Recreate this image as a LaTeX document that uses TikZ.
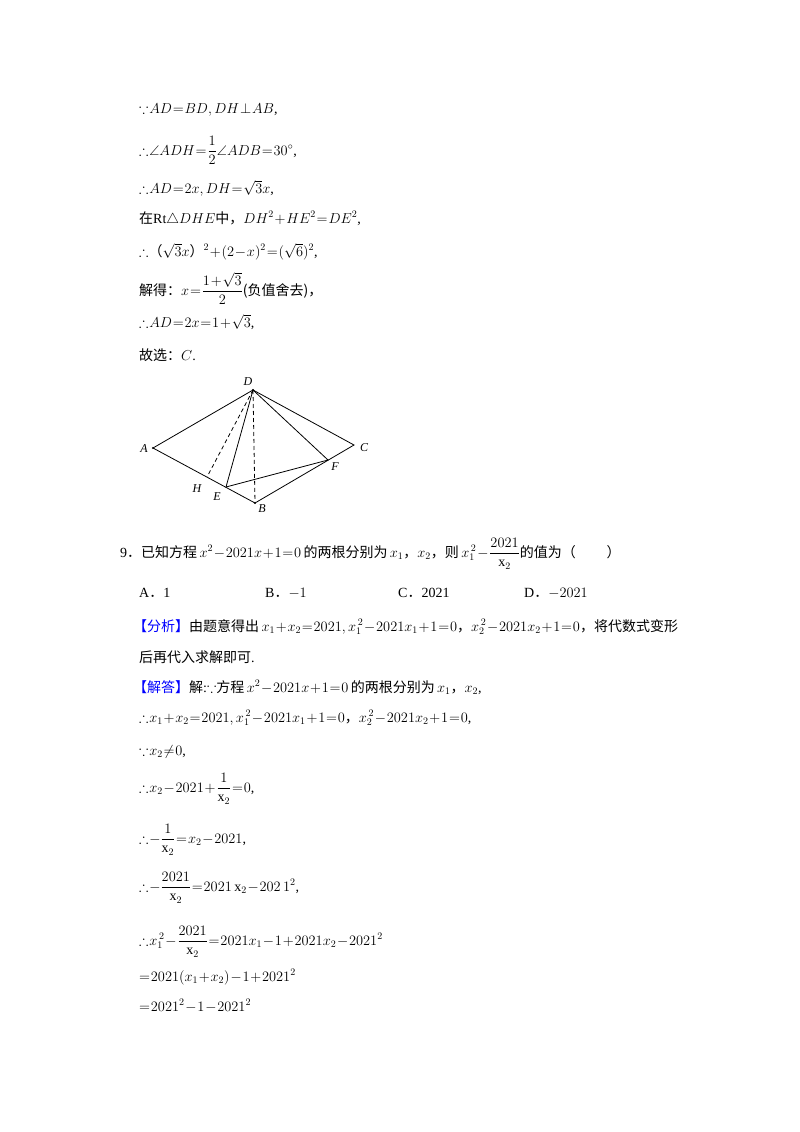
\documentclass[tikz,border=0pt]{standalone}
\usepackage{amsmath,amssymb}
\usepackage{fontspec}
\setmainfont{Liberation Serif}
\newfontfamily\cjk{Noto Sans CJK SC}
\medmuskip=1mu plus 1mu
\thickmuskip=1mu plus 1mu
\begin{document}
\begin{tikzpicture}[x=1pt,y=-1pt,
 t/.style={anchor=base west,inner sep=0,font=\fontsize{14}{16}\selectfont},
 lb/.style={inner sep=0,font=\fontsize{12}{12}\selectfont\itshape},
 ln/.style={line width=0.8pt},
 dl/.style={line width=0.8pt,dash pattern=on 4pt off 3pt}]
\useasboundingbox (0,0) rectangle (800,1132);
\node[t] (l1) at (139,113) {$\because AD=BD,DH\perp AB$,};
\node[t] (l2) at (139,155) {$\therefore\angle ADH=\dfrac{1}{2}\angle ADB=30^\circ$,};
\node[t] (l3) at (139,193) {$\therefore AD=2x,DH=\sqrt{3}x$,};
\node[t] (l4) at (139,223) {{\cjk 在}Rt$\triangle DHE${\cjk 中，}$DH^2+HE^2=DE^2$,};
\node[t] (l5) at (139,256) {$\therefore${\cjk （}$\sqrt{3}x${\cjk ）}$^2+(2-x)^2=(\sqrt{6})^2$,};
\node[t] (l6) at (139,295) {{\cjk 解得：}$x=\dfrac{1+\sqrt{3}}{2}${\cjk (负值舍去)，}};
\node[t] (l7) at (139,327) {$\therefore AD=2x=1+\sqrt{3}$,};
\node[t] (l8) at (139,360) {{\cjk 故选：}$C$.};
% figure
\coordinate (D) at (253,390);
\coordinate (A) at (153,448);
\coordinate (C) at (354,445);
\coordinate (B) at (255,503);
\coordinate (E) at (226,487);
\coordinate (H) at (207,477);
\coordinate (F) at (328,460);
\draw[ln] (A)--(D)--(C)--(B)--(A);
\draw[ln] (D)--(E)--(F)--(D);
\draw[dl] (D)--(H);
\draw[dl] (D)--(B);
\fill (D) circle (1.2pt) (A) circle (1.2pt) (B) circle (1.2pt);
\node[lb] (lD) at (248,382) {D};
\node[lb] (lA) at (144,449) {A};
\node[lb] (lC) at (364,448) {C};
\node[lb] (lH) at (197,489) {H};
\node[lb] (lE) at (217,497) {E};
\node[lb] (lF) at (335,467) {F};
\node[lb] (lB) at (262,509) {B};
% question
\node[t] (q) at (120,557) {9{\cjk ．已知方程}\,$x^2-2021x+1=0$\,{\cjk 的两根分别为}\,$x_1${\cjk ，}$x_2${\cjk ，则}\,$x_1^{\,2}-\dfrac{2021}{\mathrm{x}_2}${\cjk 的值为（\hspace{2.2em}）}};
\node[t] (oA) at (139,597) {A{\cjk ．}1};
\node[t] (oB) at (265,597) {B{\cjk ．}$-1$};
\node[t] (oC) at (398,597) {C{\cjk ．}2021};
\node[t] (oD) at (524,597) {D{\cjk ．}$-2021$};
\node[t] (a1) at (133,631) {{\cjk\color{blue}【分析】}{\cjk 由题意得出}\,$x_1+x_2=2021,x_1^{\,2}-2021x_1+1=0${\cjk ，}$x_2^{\,2}-2021x_2+1=0${\cjk ，将代数式变形}};
\node[t] (a2) at (139,662) {{\cjk 后再代入求解即可}.};
\node[t] (s1) at (133,692) {{\cjk\color{blue}【解答】}{\cjk 解}:$\because${\cjk 方程}\,$x^2-2021x+1=0$\,{\cjk 的两根分别为}\,$x_1${\cjk ，}$x_2$,};
\node[t] (s2) at (139,722) {$\therefore x_1+x_2=2021,x_1^{\,2}-2021x_1+1=0${\cjk ，}$x_2^{\,2}-2021x_2+1=0$,};
\node[t] (s3) at (139,755) {$\because x_2\neq0$,};
\node[t] (s4) at (139,792) {$\therefore x_2-2021+\dfrac{1}{\mathrm{x}_2}=0$,};
\node[t] (s5) at (139,843) {$\therefore -\dfrac{1}{\mathrm{x}_2}=x_2-2021$,};
\node[t] (s6) at (139,891) {$\therefore -\dfrac{2021}{\mathrm{x}_2}=2021\,\mathrm{x}_2-202\,1^2$,};
\node[t] (s7) at (139,945) {$\therefore x_1^{\,2}-\dfrac{2021}{\mathrm{x}_2}=2021x_1-1+2021x_2-2021^2$};
\node[t] (s8) at (139,981) {$=2021(x_1+x_2)-1+2021^2$};
\node[t] (s9) at (139,1011) {$=2021^2-1-2021^2$};
\end{tikzpicture}
\end{document}
